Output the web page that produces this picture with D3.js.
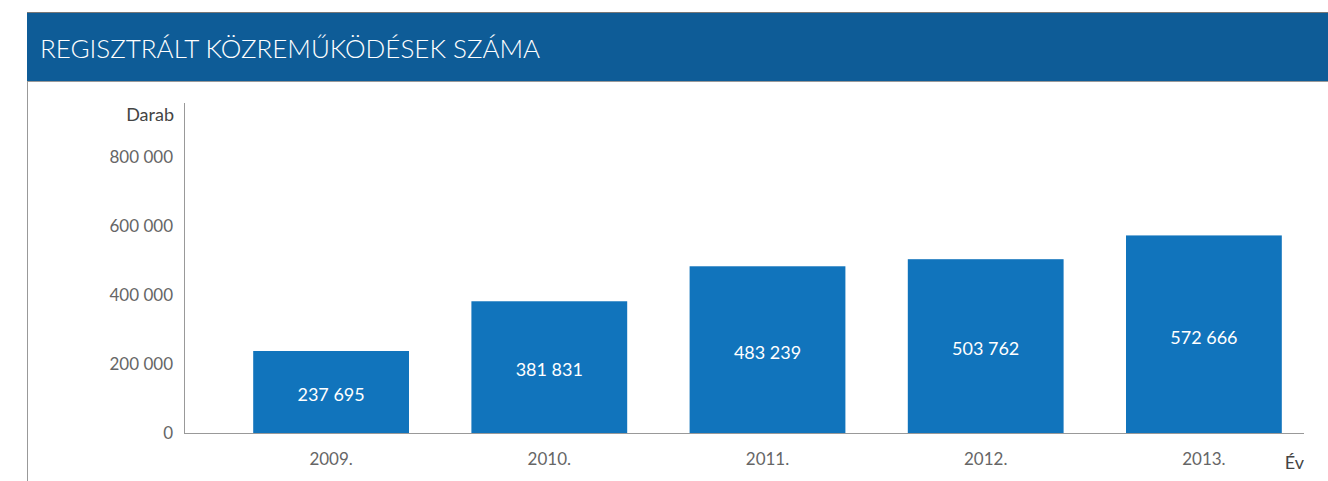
<!DOCTYPE html>
<html>
<head>
<meta charset="utf-8">
<script src="https://cdn.jsdelivr.net/npm/d3@7"></script>
<style>
  body { margin: 0; background: #fff; }
  svg text { font-family: Lato, "Open Sans", sans-serif; }
</style>
</head>
<body>
<div id="chart"></div>
<script>
var width = 1328;
var height = 481;

var years = ["2009.", "2010.", "2011.", "2012.", "2013."];
var values = [237695, 381831, 483239, 503762, 572666];
var yTicks = [0, 200000, 400000, 600000, 800000];

var title = "REGISZTRÁLT KÖZREMŰKÖDÉSEK SZÁMA";

var svg = d3.select("#chart")
  .append("svg")
  .attr("width", width)
  .attr("height", height);

// panel frame + header
svg.append("line")
  .attr("x1", 27.5).attr("x2", 27.5)
  .attr("y1", 12).attr("y2", height)
  .attr("stroke", "#999").attr("stroke-width", 1);

svg.append("rect")
  .attr("x", 27).attr("y", 12)
  .attr("width", width - 27).attr("height", 70)
  .attr("fill", "#0e5c97");

svg.append("line")
  .attr("x1", 27).attr("x2", width)
  .attr("y1", 12.5).attr("y2", 12.5)
  .attr("stroke", "#777");
svg.append("line")
  .attr("x1", 27).attr("x2", width)
  .attr("y1", 81.5).attr("y2", 81.5)
  .attr("stroke", "#999");

svg.append("text")
  .attr("x", 40).attr("y", 58)
  .attr("fill", "#fff")
  .attr("font-size", 26)
  .attr("font-weight", 300)
  .text(title);

// scales
var x = d3.scaleBand()
  .domain(years)
  .range([222, 1313])
  .paddingInner(0.286)
  .paddingOuter(0.143);

var y = d3.scaleLinear()
  .domain([0, 800000])
  .range([433, 157]);

var fmt = function(v) { return d3.format(",")(v).replace(/,/g, " "); };

// y axis
var yAxis = svg.append("g")
  .attr("transform", "translate(184,0)")
  .call(d3.axisLeft(y).tickValues(yTicks).tickSize(0).tickPadding(11).tickFormat(fmt));
yAxis.select(".domain").remove();
yAxis.selectAll("text")
  .attr("fill", "#666")
  .attr("font-size", 17);

svg.append("line")
  .attr("x1", 184.5).attr("x2", 184.5)
  .attr("y1", 103).attr("y2", 433)
  .attr("stroke", "#999");

svg.append("text")
  .attr("x", 174).attr("y", 121)
  .attr("text-anchor", "end")
  .attr("fill", "#444")
  .attr("font-size", 18)
  .text("Darab");

// bars
svg.append("g")
  .selectAll("rect")
  .data(values)
  .enter()
  .append("rect")
  .attr("x", function(d, i) { return x(years[i]); })
  .attr("y", function(d) { return y(d); })
  .attr("width", x.bandwidth())
  .attr("height", function(d) { return y(0) - y(d); })
  .attr("fill", "#1174bc");

svg.append("g")
  .selectAll("text")
  .data(values)
  .enter()
  .append("text")
  .attr("x", function(d, i) { return x(years[i]) + x.bandwidth() / 2; })
  .attr("y", function(d) { return (y(d) + y(0)) / 2 + 3; })
  .attr("dy", "0.35em")
  .attr("text-anchor", "middle")
  .attr("fill", "#fff")
  .attr("font-size", 18)
  .text(fmt);

// x axis
var xAxis = svg.append("g")
  .attr("transform", "translate(0,433)")
  .call(d3.axisBottom(x).tickSize(0).tickPadding(20));
xAxis.select(".domain").remove();
xAxis.selectAll("text")
  .attr("fill", "#666")
  .attr("font-size", 17);

svg.append("line")
  .attr("x1", 184).attr("x2", 1304)
  .attr("y1", 433.5).attr("y2", 433.5)
  .attr("stroke", "#999");

svg.append("text")
  .attr("x", 1304).attr("y", 469)
  .attr("text-anchor", "end")
  .attr("fill", "#444")
  .attr("font-size", 18)
  .text("Év");
</script>
</body>
</html>
